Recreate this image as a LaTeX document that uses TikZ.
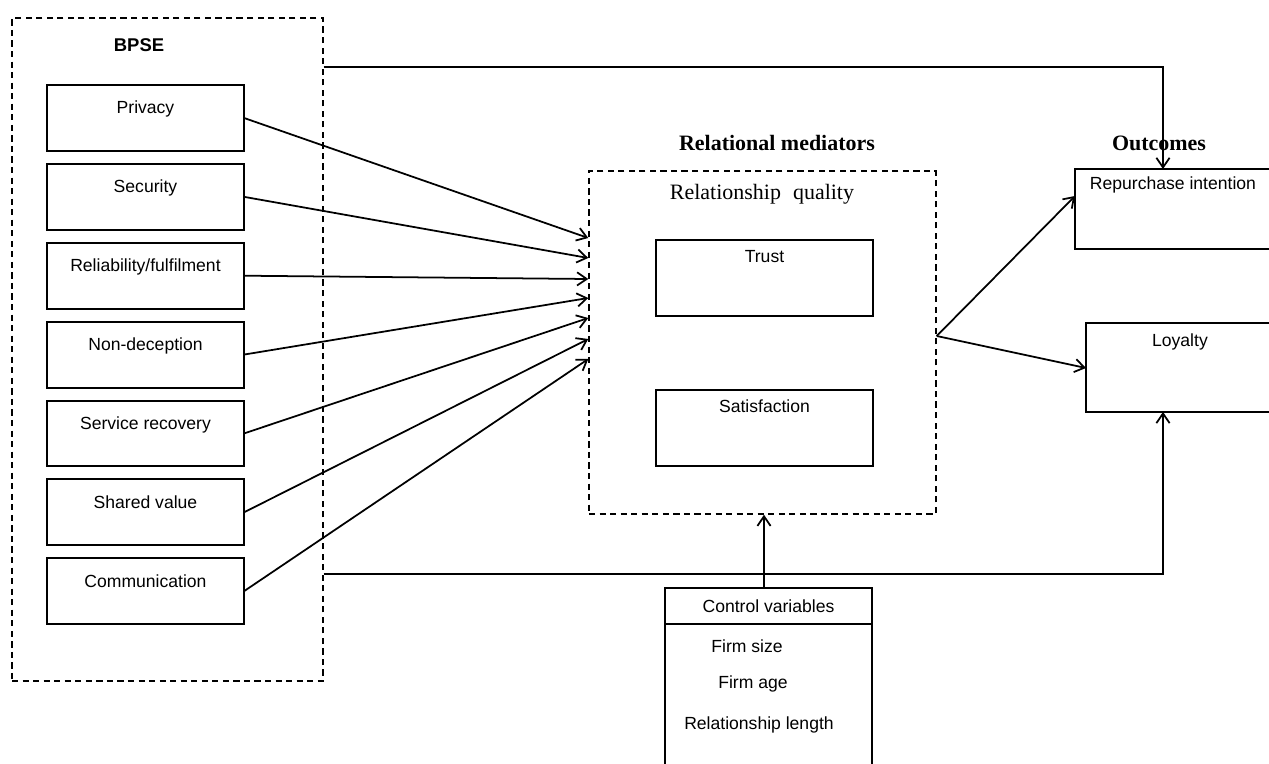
\documentclass[tikz,border=0pt]{standalone}
\usepackage{fontspec}
\setmainfont{Liberation Serif}
\setsansfont{Liberation Sans}
\usetikzlibrary{positioning,arrows.meta}

\begin{document}
\begin{tikzpicture}[x=0.02cm,y=-0.02cm,line width=1pt,
  sans/.style={font=\sffamily\fontsize{10}{12}\selectfont},
  dashbox/.style={draw,dash pattern=on 3.5pt off 2.5pt,line width=0.85pt,inner sep=0pt},
  factor/.style={draw,line width=1.15pt,sans,anchor=north west,inner sep=0pt,outer sep=0pt,minimum width=3.94cm,text height=16.5pt,text depth=21pt},
  construct/.style={draw,line width=1.15pt,sans,anchor=north west,inner sep=0pt,minimum width=4.34cm,text height=13pt,text depth=30.2pt},
  outbox/.style={draw,line width=1.15pt,sans,anchor=north west,inner sep=0pt,outer sep=0pt},
  heading/.style={font=\bfseries\fontsize{12.5}{14}\selectfont},
  link/.style={-{Straight Barb[length=5.5pt,width=7.5pt]}}]
\useasboundingbox (0,0) rectangle (1269,764);
\clip (0,0) rectangle (1269,764);

% BPSE dimensions
\node[dashbox,minimum width=6.22cm,minimum height=13.26cm] (bpse) at (167.5,349.5) {};
\node[font=\sffamily\bfseries\fontsize{10.5}{12}\selectfont] (bpsetitle) at (139,45) {BPSE};
\node[factor] (priv) at (47,85) {Privacy};
\node[factor,below=0.26cm of priv] (secu) {Security};
\node[factor,below=0.26cm of secu] (reli) {Reliability/fulfilment};
\node[factor,below=0.26cm of reli] (nond) {Non-deception};
\node[factor,below=0.26cm of nond] (serv) {Service recovery};
\node[factor,below=0.26cm of serv] (shar) {Shared value};
\node[factor,below=0.26cm of shar] (comm) {Communication};

% relational mediators
\node[heading] (medtitle) at (777,143) {Relational mediators};
\node[dashbox,minimum width=6.94cm,minimum height=6.86cm] (rq) at (762.5,342.5) {};
\node[font=\fontsize{12.5}{14}\selectfont] (rqtitle) at (762,194) {Relationship\hspace{0.55em}quality};
\node[construct] (trust) at (655,239) {Trust};
\node[construct] (satis) at (655,389) {Satisfaction};

% outcomes
\node[heading] (outtitle) at (1159,143) {Outcomes};
\node[outbox,minimum width=3.92cm,text height=11.4pt,text depth=34.1pt] (rep) at (1075,169) {Repurchase intention};
\node[outbox,minimum width=3.76cm,text height=13.1pt,text depth=37.5pt] (loy) at (1086,323) {Loyalty};

% control variables
\node[outbox,minimum width=4.14cm,minimum height=0.72cm] (ctrl) at (665,588) {Control variables};
\node[outbox,anchor=north,minimum width=4.14cm,minimum height=3.5cm] (ctrlbody) at (ctrl.south) {};
\node[sans] (fsize) at (747,646) {Firm size};
\node[sans] (fage) at (753,684) {Firm age};
\node[sans] (rlen) at (759,725) {Relationship length};

% paths
\draw[link] (priv.east) -- (rq.west |- 0,238);
\draw[link] (secu.east) -- (rq.west |- 0,258);
\draw[link] (reli.east) -- (rq.west |- 0,279);
\draw[link] (nond.east) -- (rq.west |- 0,298);
\draw[link] (serv.east) -- (rq.west |- 0,318);
\draw[link] (shar.east) -- (rq.west |- 0,339);
\draw[link] (comm.east) -- (rq.west |- 0,359);
\draw[link] (rq.east |- 0,336) -- (rep.west |- 0,196);
\draw[link] (rq.east |- 0,336) -- (loy.west |- 0,368);
\coordinate (topturn) at (1163,67);
\coordinate (botturn) at (1163,574);
\draw[link] (bpse.east |- topturn) -- (topturn) -- (rep.north -| topturn);
\draw[link] (bpse.east |- botturn) -- (botturn) -- (loy.south -| botturn);
\draw[link] (ctrl.north -| 764,0) -- (rq.south -| 764,0);
\end{tikzpicture}
\end{document}
